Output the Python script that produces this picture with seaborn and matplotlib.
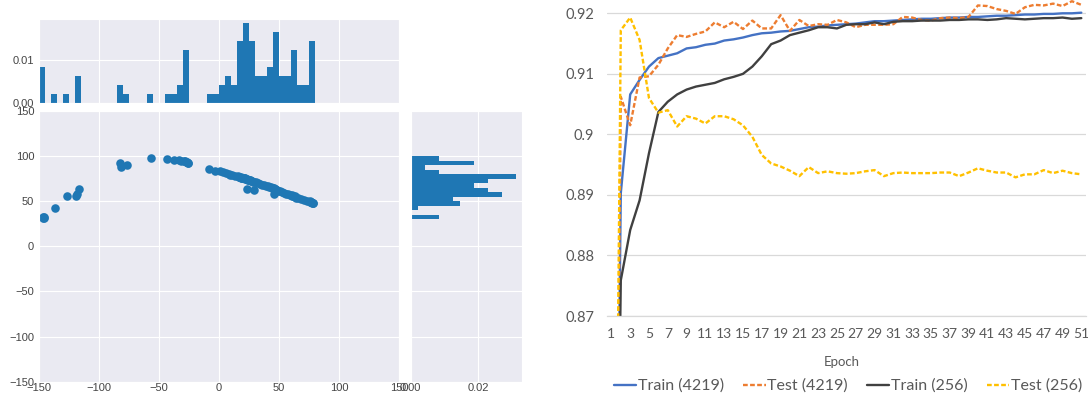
import numpy as np
import pandas as pd
import seaborn as sns
import matplotlib
matplotlib.use("Agg")
import matplotlib.pyplot as plt
from matplotlib.ticker import FormatStrFormatter, FuncFormatter

# left panel: joint scatter points
point_x = [-147.0, -146.5, -146.0, -145.5, -137.0, -127.0, -119.5, -118.5, -116.5,
           -82.5, -81.5, -77.0, -57.0, -43.0, -37.5, -33.5, -31.5,
           -29.5, -28.5, -27.5, -26.8, -26.0, -25.5,
           -8.0, -3.0, 1.0, 3.0, 6.0, 8.0, 9.0, 11.0, 13.5,
           15.5, 16.5, 17.0, 18.0, 18.5, 19.0, 19.5,
           20.5, 21.0, 21.5, 22.0, 22.5, 23.5, 24.0, 24.5, 23.0,
           25.5, 26.0, 26.5, 27.5, 28.0, 29.0, 29.5,
           31.0, 32.5, 34.0, 36.0, 37.5, 39.0,
           40.5, 41.5, 43.0, 44.0,
           45.0, 45.5, 46.5, 47.0, 47.5, 48.5, 49.5, 46.0,
           51.0, 52.5, 54.0, 56.0, 57.5, 59.0,
           60.5, 61.0, 62.0, 63.0, 63.5, 64.5,
           66.0, 68.0, 71.0, 73.5,
           75.5, 76.0, 76.5, 77.0, 77.5, 78.0, 78.5]
point_y = [31.5, 32.5, 31.0, 32.0, 43.0, 55.3, 56.0, 57.8, 63.2,
           92.5, 87.8, 90.5, 97.5, 96.5, 95.5, 95.5, 94.8,
           94.6, 94.2, 94.0, 93.2, 92.6, 92.0,
           85.5, 84.0, 83.5, 82.5, 81.0, 79.8, 79.5, 79.0, 78.0,
           77.8, 77.2, 76.8, 76.5, 76.0, 75.8, 75.5,
           76.0, 75.6, 75.3, 75.1, 74.6, 74.2, 73.8, 73.5, 64.0,
           73.3, 73.0, 72.6, 72.3, 71.8, 71.3, 62.0,
           70.8, 69.8, 69.0, 68.3, 67.5, 66.8,
           66.5, 66.0, 65.6, 65.2,
           64.6, 64.2, 63.6, 63.2, 62.8, 62.2, 61.5, 57.5,
           60.8, 59.8, 59.2, 58.5, 58.0, 57.2,
           56.8, 56.3, 55.8, 55.3, 54.6, 54.0,
           53.2, 52.5, 51.5, 50.6,
           49.8, 49.3, 49.0, 48.6, 48.2, 47.8, 47.5]

# right panel: accuracy per epoch
epochs = list(range(1, 52))
train_4219 = [0.750, 0.8903, 0.9066, 0.9090, 0.9112, 0.9126, 0.9130, 0.9134, 0.9142, 0.9144,
              0.9148, 0.9150, 0.9155, 0.9157, 0.9160, 0.9164, 0.9167, 0.9168, 0.9170, 0.9171,
              0.9174, 0.9177, 0.9178, 0.9180, 0.9181, 0.9182, 0.9183, 0.9185, 0.9187, 0.9187,
              0.9188, 0.9189, 0.9190, 0.9191, 0.9191, 0.9192, 0.9193, 0.9193, 0.9194, 0.9194,
              0.9195, 0.9196, 0.9196, 0.9197, 0.9198, 0.9198, 0.9199, 0.9199, 0.9200, 0.9200,
              0.9201]
test_4219 = [0.740, 0.9062, 0.9015, 0.9094, 0.9096, 0.9115, 0.9142, 0.9164, 0.9161, 0.9166,
             0.9170, 0.9185, 0.9177, 0.9186, 0.9174, 0.9188, 0.9175, 0.9175, 0.9197, 0.9171,
             0.9189, 0.9179, 0.9182, 0.9181, 0.9189, 0.9185, 0.9177, 0.9181, 0.9181, 0.9181,
             0.9182, 0.9194, 0.9193, 0.9189, 0.9188, 0.9192, 0.9193, 0.9192, 0.9194, 0.9213,
             0.9212, 0.9207, 0.9204, 0.9199, 0.9210, 0.9214, 0.9213, 0.9216, 0.9212, 0.9220,
             0.9214]
train_256 = [0.760, 0.8759, 0.8842, 0.8891, 0.8969, 0.9037, 0.9054, 0.9066, 0.9074, 0.9079,
             0.9082, 0.9085, 0.9091, 0.9095, 0.9100, 0.9112, 0.9129, 0.9149, 0.9155, 0.9164,
             0.9168, 0.9172, 0.9177, 0.9177, 0.9175, 0.9181, 0.9182, 0.9182, 0.9185, 0.9182,
             0.9186, 0.9187, 0.9187, 0.9188, 0.9188, 0.9188, 0.9189, 0.9189, 0.9190, 0.9190,
             0.9189, 0.9190, 0.9192, 0.9191, 0.9190, 0.9191, 0.9192, 0.9192, 0.9193, 0.9191,
             0.9192]
test_256 = [0.750, 0.9172, 0.9193, 0.9156, 0.9060, 0.9036, 0.9040, 0.9013, 0.9030, 0.9026,
            0.9018, 0.9030, 0.9030, 0.9025, 0.9015, 0.8996, 0.8966, 0.8952, 0.8947, 0.8940,
            0.8931, 0.8946, 0.8936, 0.8939, 0.8936, 0.8935, 0.8936, 0.8939, 0.8941, 0.8931,
            0.8936, 0.8937, 0.8936, 0.8936, 0.8936, 0.8937, 0.8937, 0.8931, 0.8937, 0.8944,
            0.8940, 0.8937, 0.8937, 0.8929, 0.8934, 0.8934, 0.8941, 0.8936, 0.8940, 0.8936,
            0.8934]

series_labels = ["Train (4219)", "Test (4219)", "Train (256)", "Test (256)"]
series_colors = ["#4472C4", "#ED7D31", "#404040", "#FFC000"]

sns.set_style("darkgrid")
plt.rcParams['font.family'] = ['Liberation Sans', 'DejaVu Sans']

W, H = 1088, 395
fig = plt.figure(figsize=(W / 100, H / 100), dpi=100)


def box(x0, y0, x1, y1):
    # pixel box (top-left origin) -> figure fraction
    return [x0 / W, 1 - y1 / H, (x1 - x0) / W, (y1 - y0) / H]


ax_joint = fig.add_axes(box(39, 111, 399, 381.7))
ax_top = fig.add_axes(box(39, 19, 399, 102.7), sharex=ax_joint)
ax_right = fig.add_axes(box(410.7, 111, 521.7, 381.7), sharey=ax_joint)
ax_line = fig.add_axes(box(606.7, 0, 1086, 316))

blue = "#1f77b4"

# joint plot
sns.scatterplot(x=point_x, y=point_y, ax=ax_joint, s=38, color=blue, linewidth=0)
sns.histplot(x=point_x, ax=ax_top, binwidth=5, binrange=(-150, 80), stat="density",
             color=blue, alpha=1, linewidth=0)
sns.histplot(y=point_y, ax=ax_right, binwidth=5, binrange=(30, 100), stat="density",
             color=blue, alpha=1, linewidth=0)

ticks = [-150, -100, -50, 0, 50, 100, 150]
ax_joint.set_xlim(-150, 150)
ax_joint.set_ylim(-150, 150)
ax_joint.set_xticks(ticks)
ax_joint.set_yticks(ticks)
ax_top.set_ylim(0, 0.0197)
ax_top.set_yticks([0, 0.01])
ax_top.yaxis.set_major_formatter(FormatStrFormatter("%.2f"))
ax_right.set_xlim(0, 0.0328)
ax_right.set_xticks([0, 0.02])
ax_right.xaxis.set_major_formatter(FormatStrFormatter("%.2f"))

for ax in (ax_joint, ax_top, ax_right):
    ax.set_xlabel("")
    ax.set_ylabel("")
    ax.tick_params(labelsize=8, labelcolor="#444444", length=0)
ax_joint.tick_params(axis="x", pad=1)
ax_right.tick_params(axis="x", pad=1)
ax_top.tick_params(labelbottom=False)
ax_right.tick_params(labelleft=False)

# line chart, Excel look
for label, vals, color in zip(series_labels, [train_4219, test_4219, train_256, test_256], series_colors):
    ls = (0, (2, 1)) if label.startswith("Test") else "-"
    sns.lineplot(x=epochs, y=vals, ax=ax_line, color=color, linestyle=ls,
                 linewidth=1.7, label=label)

ax_line.set_facecolor("white")
ax_line.set_xlim(0.5, 51.5)
ax_line.set_ylim(0.87, 0.92 + 13.3 / 6050)
y_ticks = [0.87, 0.88, 0.89, 0.90, 0.91, 0.92]
ax_line.set_yticks(y_ticks)
ax_line.yaxis.set_major_formatter(FuncFormatter(lambda v, p: f"{v:g}"))
ax_line.set_xticks(epochs[::2])
ax_line.grid(axis="x", visible=False)
ax_line.grid(axis="y", color="#D9D9D9", linewidth=0.9)
for side, sp in ax_line.spines.items():
    sp.set_visible(side == "bottom")
ax_line.spines["bottom"].set_color("#D9D9D9")
ax_line.spines["bottom"].set_linewidth(0.9)
ax_line.tick_params(length=0, labelcolor="#595959")
ax_line.tick_params(axis="y", pad=9, labelsize=10.5)
ax_line.tick_params(axis="x", pad=9, labelsize=10)
for t in ax_line.get_xticklabels() + ax_line.get_yticklabels():
    t.set_family(["Lato", "DejaVu Sans"])
ax_line.set_xlabel("Epoch", fontsize=9.5, color="#595959", family=["Lato", "DejaVu Sans"])
ax_line.xaxis.set_label_coords(0.49, -0.125)
ax_line.set_ylabel("")

ax_line.get_legend().remove()
handles, labels = ax_line.get_legend_handles_labels()
fig.legend(handles, labels, loc="center", bbox_to_anchor=(848 / W, 1 - 386 / H),
           ncol=4, frameon=False, handlelength=1.4, handletextpad=0.1, columnspacing=1.2,
           prop={"family": ["Lato", "DejaVu Sans"], "size": 11.5}, labelcolor="#595959")

fig.savefig("out.png", dpi=100)
